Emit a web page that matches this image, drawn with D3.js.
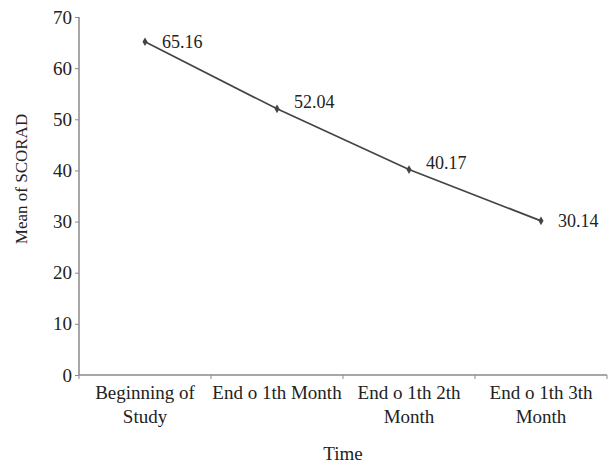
<!DOCTYPE html>
<html>
<head>
<meta charset="utf-8">
<script src="https://cdn.jsdelivr.net/npm/d3@7"></script>
<style>
  html, body { margin: 0; padding: 0; background: #fff; }
  svg { display: block; }
  text { font-family: "Liberation Serif", "DejaVu Serif", serif; fill: #222; }
</style>
</head>
<body>
<svg id="chart" width="608" height="463"></svg>
<script>
const categories = ["Beginning of Study", "End o 1th Month", "End o 1th 2th Month", "End o 1th 3th Month"];
const categoryLines = [["Beginning of", "Study"], ["End o 1th Month"], ["End o 1th 2th", "Month"], ["End o 1th 3th", "Month"]];
const values = [65.16, 52.04, 40.17, 30.14];
const valueLabels = ["65.16", "52.04", "40.17", "30.14"];
const yTicks = [0, 10, 20, 30, 40, 50, 60, 70];
const yTitle = "Mean of SCORAD";
const xTitle = "Time";

const W = 608, H = 463;
const margin = { top: 17, right: 1, bottom: 88, left: 79 };
const svg = d3.select("#chart");
const iw = W - margin.left - margin.right;
const ih = H - margin.top - margin.bottom;
const g = svg.append("g").attr("transform", `translate(${margin.left},${margin.top})`);

const x = d3.scaleBand().domain(categories).range([0, iw]).padding(0);
const y = d3.scaleLinear().domain([0, 70]).range([ih, 0]);

const axisColor = "#8a8a8a";

// Y axis
const yAxis = g.append("g").call(d3.axisLeft(y).tickValues(yTicks).tickSize(4).tickPadding(3).tickFormat(d3.format("d")));
yAxis.select(".domain").attr("stroke", axisColor).attr("stroke-width", 1.5).attr("d", `M0,${ih}V0`);
yAxis.selectAll(".tick line").attr("stroke", axisColor).attr("stroke-width", 1);
yAxis.selectAll(".tick text").attr("font-family", "Liberation Serif").attr("font-size", 19).attr("fill", "#222");

// X axis
const xAxisG = g.append("g").attr("transform", `translate(0,${ih})`);
xAxisG.append("line").attr("x1", 0).attr("x2", iw).attr("y1", 0).attr("y2", 0)
  .attr("stroke", axisColor).attr("stroke-width", 1.5);
const boundaries = categories.map(c => x(c)).concat([x(categories[categories.length - 1]) + x.bandwidth()]);
xAxisG.selectAll("line.tk").data(boundaries).enter().append("line").attr("class", "tk")
  .attr("x1", d => d).attr("x2", d => d).attr("y1", 0).attr("y2", 4)
  .attr("stroke", axisColor).attr("stroke-width", 1);
const lbl = xAxisG.selectAll("text.cat").data(categories).enter().append("text").attr("class", "cat")
  .attr("text-anchor", "middle")
  .attr("font-size", 19)
  .attr("transform", d => `translate(${x(d) + x.bandwidth() / 2},24)`);
lbl.each(function(d, i) {
  const t = d3.select(this);
  categoryLines[i].forEach((line, j) => {
    t.append("tspan").attr("x", 0).attr("y", j * 24).text(line);
  });
});

// Line
const cx = (d, i) => x(categories[i]) + x.bandwidth() / 2;
const line = d3.line().x((d, i) => cx(d, i)).y(d => y(d));
g.append("path").datum(values).attr("d", line)
  .attr("fill", "none").attr("stroke", "#444").attr("stroke-width", 1.7);

g.selectAll("path.pt").data(values).enter().append("path").attr("class", "pt")
  .attr("d", d3.symbol().type(d3.symbolDiamond).size(22))
  .attr("transform", (d, i) => `translate(${cx(d, i)},${y(d)})`)
  .attr("fill", "#444");

// Value labels
g.selectAll("text.val").data(values).enter().append("text").attr("class", "val")
  .attr("x", (d, i) => cx(d, i) + 17)
  .attr("y", (d, i) => y(d) + ((i > 0 && i < values.length - 1) ? -7 : 0))
  .attr("dy", "0.35em")
  .attr("font-size", 18)
  .text((d, i) => valueLabels[i]);

// Axis titles
svg.append("text").attr("text-anchor", "middle").attr("font-size", 17)
  .attr("transform", `translate(27,179) rotate(-90)`).text(yTitle);
svg.append("text").attr("text-anchor", "middle").attr("font-size", 19)
  .attr("x", margin.left + iw / 2).attr("y", 460).text(xTitle);
</script>
</body>
</html>
